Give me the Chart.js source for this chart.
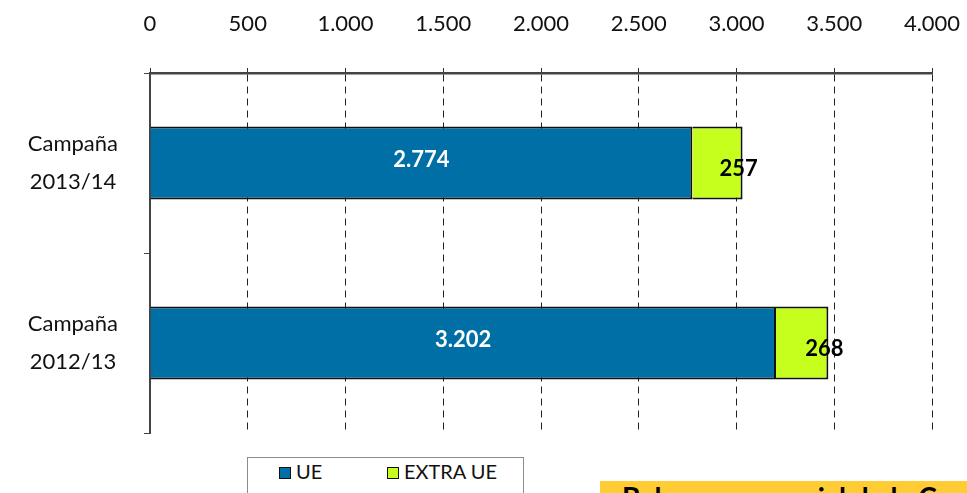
<!DOCTYPE html>
<html>
<head>
<meta charset="utf-8">
<script src="https://cdn.jsdelivr.net/npm/chart.js@4.4.0/dist/chart.umd.min.js"></script>
<style>
  body { margin: 0; background: #fff; overflow: hidden; }
  #wrap { position: relative; width: 967px; height: 493px; }
  #legend { position: absolute; left: 247px; top: 457px; width: 275px; height: 60px;
    border: 1px solid #8c8c8c; background: #fff; font-family: Lato, sans-serif; font-size: 20px; color: #111; }
  .item { position: absolute; top: 1px; }
  .sw { display: inline-block; width: 10px; height: 10px; border: 1.5px solid #111; vertical-align: 0px; margin-right: 5px; }
  #note { position: absolute; left: 600px; top: 481px; width: 367px; height: 12px; overflow: hidden;
    background: #ffcc33; }
  #note span { position: absolute; left: 22px; top: -1px; font: bold 28px Lato, sans-serif; color: #000; white-space: nowrap; }
</style>
</head>
<body>
<div id="wrap">
  <canvas id="graph" width="967" height="493"></canvas>
  <div id="legend">
    <div class="item" style="left:31px"><span class="sw" style="background:#006fa6"></span>UE</div>
    <div class="item" style="left:139px"><span class="sw" style="background:#c6ff1e"></span>EXTRA UE</div>
  </div>
  <div id="note"><span>Balance comercial de la Campaña</span></div>
</div>
<script>
const categories = [["Campaña", "2013/14"], ["Campaña", "2012/13"]];
const ue = [2774, 3202];
const extraUe = [257, 268];
const xTicks = [0, 500, 1000, 1500, 2000, 2500, 3000, 3500, 4000];

function fmt(v) {
  return v.toString().replace(/\B(?=(\d{3})+(?!\d))/g, ".");
}

// value labels on the bars
const barLabels = {
  id: "barLabels",
  afterDatasetsDraw(chart) {
    const ctx = chart.ctx;
    ctx.save();
    ctx.textBaseline = "middle";
    ctx.textAlign = "center";
    ctx.font = "bold 22px Lato, sans-serif";
    chart.getDatasetMeta(0).data.forEach((bar, i) => {
      ctx.fillStyle = "#fff";
      ctx.fillText(fmt(ue[i]), (bar.x + bar.base) / 2, bar.y - 3);
    });
    chart.getDatasetMeta(1).data.forEach((bar, i) => {
      ctx.fillStyle = "#000";
      ctx.fillText(fmt(extraUe[i]), bar.x - 4, bar.y + 6);
    });
    ctx.restore();
  }
};

new Chart(document.getElementById("graph"), {
  type: "bar",
  data: {
    labels: categories,
    datasets: [
      { label: "UE", data: ue, backgroundColor: "#006fa6", borderColor: "#111", borderWidth: 2,
        barPercentage: 0.405, categoryPercentage: 1 },
      { label: "EXTRA UE", data: extraUe, backgroundColor: "#c6ff1e", borderColor: "#111", borderWidth: 2,
        barPercentage: 0.405, categoryPercentage: 1 }
    ]
  },
  options: {
    indexAxis: "y",
    responsive: false,
    animation: false,
    layout: { padding: { top: 11, right: 35, bottom: 60, left: 0 } },
    plugins: { legend: { display: false }, tooltip: { enabled: false } },
    scales: {
      x: {
        position: "top",
        stacked: true,
        min: 0, max: 4000,
        afterBuildTicks: (s) => { s.ticks = xTicks.map(v => ({ value: v })); },
        afterFit: (s) => { s.paddingLeft = 0; s.paddingRight = 0; s.height = 62; },
        ticks: { color: "#111", font: { family: "Lato, sans-serif", size: 22 }, padding: 31,
          callback: (v) => fmt(v) },
        grid: { color: "#222", lineWidth: 1, tickLength: 5, tickColor: "#333" },
        border: { display: true, color: "#444", width: 2.5, dash: [7, 5] }
      },
      y: {
        stacked: true,
        afterFit: (s) => { s.width = 150; s.paddingTop = 0; s.paddingBottom = 0; },
        ticks: { color: "#111", crossAlign: "center", padding: 26,
          font: { family: "Lato, sans-serif", size: 22, lineHeight: 1.73 } },
        grid: { offset: true, drawOnChartArea: false, tickLength: 6, tickColor: "#444" },
        border: { display: true, color: "#444", width: 2 }
      }
    }
  },
  plugins: [barLabels]
});
</script>
</body>
</html>
